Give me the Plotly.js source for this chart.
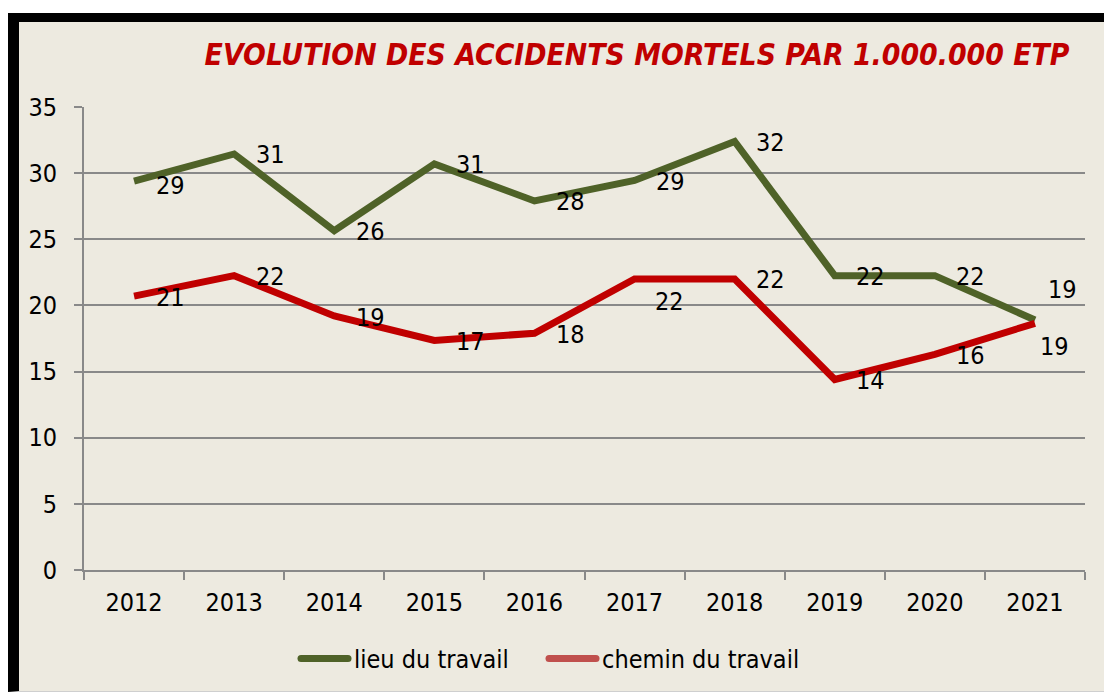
<!DOCTYPE html>
<html>
<head>
<meta charset="utf-8">
<script src="https://cdn.plot.ly/plotly-3.0.1.min.js"></script>
<style>
  html, body { margin: 0; padding: 0; background: #ffffff; width: 1104px; height: 693px; overflow: hidden; }
  #frame { position: absolute; left: 8px; top: 13px; width: 1096px; height: 679px;
           border-left: 11px solid #000; border-top: 9px solid #000; border-bottom: 1px solid #cfcfcf;
           box-sizing: border-box; background: #EDEAE0; }
  #chart { position: absolute; left: 19px; top: 22px; width: 1085px; height: 671px; }
</style>
</head>
<body>
<div id="frame"></div>
<div id="chart"></div>
<script>
const years = ["2012", "2013", "2014", "2015", "2016", "2017", "2018", "2019", "2020", "2021"];
const lieuDuTravail = [29.4, 31.45, 25.65, 30.7, 27.9, 29.45, 32.4, 22.25, 22.25, 18.9];
const cheminDuTravail = [20.7, 22.25, 19.2, 17.35, 17.9, 22.0, 22.0, 14.4, 16.3, 18.65];
const seriesNames = ["lieu du travail", "chemin du travail"];
const yTicks = [0, 5, 10, 15, 20, 25, 30, 35];
const titleText = "EVOLUTION DES ACCIDENTS MORTELS PAR 1.000.000 ETP";

const FONT = "'DejaVu Sans Condensed', 'DejaVu Sans', sans-serif";
const GREEN = "#4F6228", RED = "#C00000", RED_LEGEND = "#C0504D";

// label placement tweaks (pixel offsets), keyed by series index and point index
const labelShift = {
  "0-0": [36, -4],
  "0-9": [28, 30],
  "1-5": [35, -23],
  "1-9": [20, -23]
};

const traces = [
  { x: years, y: lieuDuTravail, type: "scatter", mode: "lines", name: seriesNames[0],
    line: { color: GREEN, width: 7 }, showlegend: false, hoverinfo: "x+y" },
  { x: years, y: cheminDuTravail, type: "scatter", mode: "lines", name: seriesNames[1],
    line: { color: RED, width: 7 }, showlegend: false, hoverinfo: "x+y" },
  { x: [null], y: [null], type: "scatter", mode: "lines", name: seriesNames[0],
    line: { color: GREEN, width: 7 }, showlegend: true },
  { x: [null], y: [null], type: "scatter", mode: "lines", name: seriesNames[1],
    line: { color: RED_LEGEND, width: 7 }, showlegend: true }
];

const annotations = [];
[lieuDuTravail, cheminDuTravail].forEach((arr, s) => {
  arr.forEach((v, i) => {
    const sh = labelShift[s + "-" + i] || [36, -1];
    annotations.push({
      x: i, y: v, xref: "x", yref: "y", text: String(Math.round(v)),
      showarrow: false, xanchor: "center", yanchor: "middle",
      xshift: sh[0], yshift: sh[1],
      font: { family: FONT, size: 25, color: "#000" }
    });
  });
});

const layout = {
  width: 1085, height: 671,
  paper_bgcolor: "rgba(0,0,0,0)", plot_bgcolor: "rgba(0,0,0,0)",
  margin: { l: 65, r: 19, t: 85, b: 122 },
  font: { family: FONT, size: 25, color: "#000" },
  title: {
    text: titleText, x: 0.5696, xanchor: "center", xref: "container",
    y: 0.951, yanchor: "middle", yref: "container",
    font: { family: FONT, size: 29.8, color: RED, weight: "bold", style: "italic" }
  },
  xaxis: {
    type: "category", range: [-0.5, 9.5], tickson: "boundaries",
    ticks: "outside", ticklen: 8, tickwidth: 2, tickcolor: "#898989",
    showline: true, linecolor: "#898989", linewidth: 2,
    showgrid: false, zeroline: false, ticklabelstandoff: 9,
    tickfont: { family: FONT, size: 25, color: "#000" }
  },
  yaxis: {
    range: [0, 35], tickvals: yTicks, ticktext: yTicks.map(String),
    ticks: "outside", ticklen: 8, tickwidth: 2, tickcolor: "#898989",
    showline: true, linecolor: "#898989", linewidth: 2,
    showgrid: true, gridcolor: "#898989", gridwidth: 2, zeroline: false,
    tickfont: { family: FONT, size: 25, color: "#000" }, ticklabelstandoff: 12
  },
  legend: {
    orientation: "h", x: 0.2118, xanchor: "left", y: -0.189, yanchor: "middle",
    font: { family: FONT, size: 25, color: "#000" }, itemwidth: 48,
    entrywidth: 185, entrywidthmode: "pixels",
    bgcolor: "rgba(0,0,0,0)"
  },
  annotations: annotations,
  showlegend: true
};

Plotly.newPlot("chart", traces, layout, { displayModeBar: false, staticPlot: true }).then(() => {
  document.querySelectorAll("#chart .legend .legendlines path").forEach(p => {
    p.setAttribute("d", "M5,0h47");
    p.style.strokeLinecap = "round";
  });
  document.querySelectorAll("#chart .legend [clip-path]").forEach(el => el.removeAttribute("clip-path"));
});
</script>
</body>
</html>
